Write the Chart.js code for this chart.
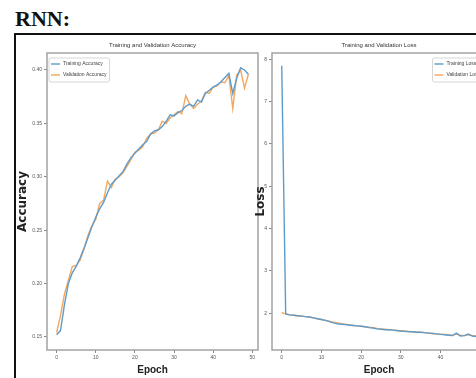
<!DOCTYPE html>
<html>
<head>
<meta charset="utf-8">
<script src="https://cdn.jsdelivr.net/npm/chart.js@4.4.1/dist/chart.umd.min.js"></script>
<style>
  html, body { margin: 0; padding: 0; background: #fff; width: 476px; height: 378px; overflow: hidden; }
  #heading { position: absolute; left: 15px; top: 8px; font: bold 22px/22px "Liberation Serif"; color: #111; }
  #frame { position: absolute; left: 14px; top: 33px; width: 520px; height: 400px; border-top: 2px solid #111; border-left: 2px solid #111; }
  canvas { position: absolute; }
</style>
</head>
<body>
<div id="heading">RNN:</div>
<div id="frame"></div>
<canvas id="acc" width="244" height="340" style="left:16px;top:38px"></canvas>
<canvas id="loss" width="234" height="340" style="left:254px;top:38px"></canvas>
<script>
const epochs = [0, 1, 2, 3, 4, 5, 6, 7, 8, 9, 10, 11, 12, 13, 14, 15, 16, 17, 18, 19,
  20, 21, 22, 23, 24, 25, 26, 27, 28, 29, 30, 31, 32, 33, 34, 35, 36, 37, 38, 39,
  40, 41, 42, 43, 44, 45, 46, 47, 48, 49]

const trainAcc = [0.152, 0.156, 0.180, 0.200, 0.210, 0.216, 0.224, 0.233, 0.243, 0.253,
  0.262, 0.270, 0.276, 0.285, 0.293, 0.297, 0.301, 0.305, 0.312, 0.318,
  0.322, 0.326, 0.330, 0.333, 0.340, 0.343, 0.344, 0.347, 0.352, 0.358,
  0.357, 0.360, 0.362, 0.366, 0.368, 0.366, 0.372, 0.370, 0.378, 0.381,
  0.384, 0.386, 0.389, 0.393, 0.397, 0.378, 0.392, 0.402, 0.400, 0.396]

const valAcc = [0.154, 0.170, 0.190, 0.203, 0.216, 0.217, 0.222, 0.232, 0.245, 0.254,
  0.260, 0.275, 0.278, 0.296, 0.290, 0.298, 0.300, 0.304, 0.310, 0.316,
  0.323, 0.325, 0.328, 0.336, 0.340, 0.341, 0.344, 0.352, 0.350, 0.355,
  0.358, 0.361, 0.359, 0.376, 0.368, 0.364, 0.368, 0.371, 0.379, 0.378,
  0.384, 0.385, 0.389, 0.388, 0.395, 0.364, 0.395, 0.400, 0.383, 0.396]

const trainLoss = [7.85, 1.98, 1.96, 1.95, 1.94, 1.93, 1.92, 1.91, 1.89, 1.87,
  1.85, 1.83, 1.80, 1.77, 1.75, 1.74, 1.73, 1.72, 1.71, 1.70,
  1.69, 1.68, 1.66, 1.65, 1.63, 1.62, 1.61, 1.61, 1.60, 1.59,
  1.58, 1.57, 1.56, 1.56, 1.55, 1.55, 1.54, 1.53, 1.52, 1.51,
  1.50, 1.49, 1.48, 1.47, 1.53, 1.46, 1.47, 1.51, 1.46, 1.45]

const valLoss = [2.02, 1.98, 1.96, 1.95, 1.94, 1.93, 1.92, 1.91, 1.89, 1.87,
  1.85, 1.83, 1.81, 1.79, 1.77, 1.75, 1.74, 1.72, 1.71, 1.70,
  1.69, 1.68, 1.67, 1.66, 1.64, 1.63, 1.62, 1.61, 1.60, 1.59,
  1.58, 1.58, 1.57, 1.56, 1.55, 1.55, 1.54, 1.53, 1.52, 1.51,
  1.50, 1.50, 1.49, 1.48, 1.51, 1.48, 1.47, 1.49, 1.47, 1.46]

const epochTicks = [0, 10, 20, 30, 40, 50]
const accTicks = [0.15, 0.20, 0.25, 0.30, 0.35, 0.40]
const lossTicks = [2, 3, 4, 5, 6, 7, 8]

const blue = "#5e9ccb"
const orange = "#f3a75e"
const tickFont = { family: "Liberation Sans", size: 5 }

// spines on all four sides, like matplotlib
const spines = {
  id: "spines",
  afterDraw(chart) {
    const { ctx, chartArea: a } = chart
    ctx.save()
    ctx.strokeStyle = "#a3a3a3"
    ctx.lineWidth = 1.5
    ctx.strokeRect(a.left, a.top, a.right - a.left, a.bottom - a.top)
    ctx.restore()
  }
}

// small framed legend inside the plot
const boxLegend = {
  id: "boxLegend",
  afterDraw(chart, args, opts) {
    const { ctx, chartArea: a } = chart
    const sets = chart.data.datasets
    ctx.save()
    ctx.font = '5px "Liberation Sans"'
    const textW = Math.max(...sets.map(d => ctx.measureText(d.label).width))
    const w = 2 + 9 + 3 + textW + 3
    const h = 24
    const x = opts.side === "right" ? a.right - 3 - w : a.left + 2
    const y = a.top + 5
    ctx.fillStyle = "rgba(255,255,255,0.85)"
    ctx.strokeStyle = "#d6d6d6"
    ctx.lineWidth = 1
    ctx.beginPath()
    ctx.roundRect(x, y, w, h, 2)
    ctx.fill()
    ctx.stroke()
    sets.forEach((d, i) => {
      const ly = y + 6 + i * 11
      ctx.strokeStyle = d.borderColor
      ctx.lineWidth = 1.4
      ctx.beginPath()
      ctx.moveTo(x + 2, ly)
      ctx.lineTo(x + 11, ly)
      ctx.stroke()
      ctx.fillStyle = "#444"
      ctx.textBaseline = "middle"
      ctx.fillText(d.label, x + 14, ly)
    })
    ctx.restore()
  }
}

const makeChart = (id, opts) => {
  const toPoints = vals => vals.map((v, i) => ({ x: epochs[i], y: v }))

  return new Chart(document.getElementById(id), {
    type: "line",
    data: {
      datasets: [
        { label: opts.labels[0], data: toPoints(opts.series[0]), borderColor: blue, borderWidth: 1.4, pointRadius: 0, tension: 0 },
        { label: opts.labels[1], data: toPoints(opts.series[1]), borderColor: orange, borderWidth: 1.4, pointRadius: 0, tension: 0 },
      ]
    },
    options: {
      responsive: false,
      animation: false,
      devicePixelRatio: 1,
      layout: { padding: { right: 2 } },
      plugins: {
        legend: { display: false },
        tooltip: { enabled: false },
        title: {
          display: true,
          text: opts.title,
          fullSize: false,
          color: "#333",
          font: { family: "Liberation Sans", size: 6, weight: "normal" },
          padding: { top: 3.4, bottom: 4.4 },
        },
        boxLegend: { side: opts.legendSide },
      },
      scales: {
        x: {
          type: "linear",
          min: -2.45,
          max: 51.45,
          afterBuildTicks: scale => { scale.ticks = epochTicks.map(v => ({ value: v })) },
          afterFit: scale => { scale.height = 28 },
          grid: { drawOnChartArea: false, drawTicks: true, tickLength: 3, color: "#888" },
          border: { display: false },
          ticks: { font: tickFont, color: "#555", padding: 2, maxRotation: 0 },
          title: {
            display: true,
            text: "Epoch",
            color: "#222",
            font: { family: "Liberation Sans", size: 10, weight: "bold" },
            padding: { top: 0, bottom: 2 },
          },
        },
        y: {
          min: opts.yMin,
          max: opts.yMax,
          afterBuildTicks: scale => { scale.ticks = opts.ticks.map(v => ({ value: v })) },
          afterFit: scale => { scale.width = opts.yWidth },
          grid: { drawOnChartArea: false, drawTicks: true, tickLength: 3, color: "#888" },
          border: { display: false },
          ticks: { font: tickFont, color: "#555", padding: 2, callback: opts.fmt },
          title: {
            display: true,
            text: opts.yTitle,
            color: "#222",
            font: { family: "DejaVu Sans", size: 12, weight: "bold" },
            padding: { top: 0, bottom: 0 },
          },
        },
      },
    },
    plugins: [spines, boxLegend],
  })
}

makeChart("acc", {
  title: "Training and Validation Accuracy",
  labels: ["Training Accuracy", "Validation Accuracy"],
  series: [trainAcc, valAcc],
  yTitle: "Accuracy",
  yMin: 0.1378,
  yMax: 0.4159,
  ticks: accTicks,
  yWidth: 31,
  fmt: v => v.toFixed(2),
  legendSide: "left",
})

makeChart("loss", {
  title: "Training and Validation Loss",
  labels: ["Training Loss", "Validation Loss"],
  series: [trainLoss, valLoss],
  yTitle: "Loss",
  yMin: 1.13,
  yMax: 8.15,
  ticks: lossTicks,
  yWidth: 18,
  fmt: v => v,
  legendSide: "right",
})
</script>
</body>
</html>
